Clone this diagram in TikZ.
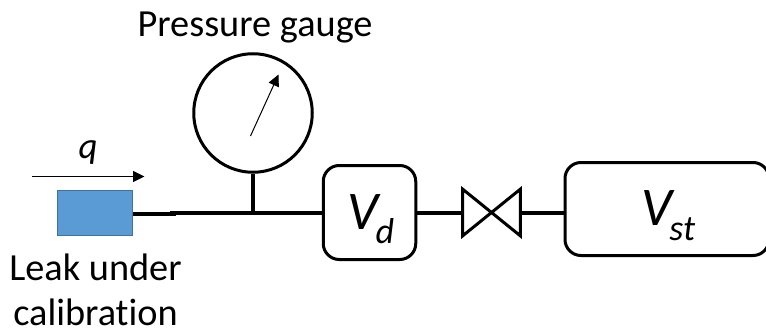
\documentclass[tikz,border=0pt]{standalone}
\usepackage{fontspec}
\setmainfont{Carlito}[Ligatures=NoCommon]
\usepackage{xcolor}
\usetikzlibrary{arrows.meta, positioning}
\definecolor{leakblue}{RGB}{91, 155, 213}
\definecolor{leakedge}{RGB}{65, 113, 156}
\newcommand{\volname}[1]{\raisebox{-0.33cm}[0pt][0pt]{\fontsize{31}{31}\selectfont\itshape\kern0.06cm V\kern-0.06em\raisebox{-0.27em}{\fontsize{20.5}{20.5}\selectfont #1}}}

\begin{document}
\begin{tikzpicture}[
    pipe/.style={draw=black, line width=0.08cm},
    volume/.style={rectangle, draw=black, line width=0.06cm, rounded corners=0.32cm, align=center},
    pointer/.style={draw=black, line width=0.02cm, -{Triangle[length=0.23cm, width=0.22cm]}},
    label/.style={font=\fontsize{21.8}{25.6}\selectfont, align=center},
]
\useasboundingbox (0,0) rectangle (15.32,-6.58);

% gauge
\node[circle, draw=black, line width=0.06cm, minimum size=2.37cm] (gauge) at (5.06,-2.26) {};
\node[label, anchor=base] (gaugelabel) at (5.10,-0.73) {Pressure gauge};
\coordinate (needlefoot) at (5.01,-2.72);
\coordinate (needletip) at (5.57,-1.49);
\draw[pointer] (needlefoot) -- (needletip);

% leak
\node[rectangle, draw=leakedge, fill=leakblue, line width=0.02cm, minimum width=1.5cm, minimum height=0.91cm] (leak) at (1.906,-4.26) {};
\node[label] (leaklabel) at (1.91,-5.79) {Leak under\\calibration};
\node[font=\fontsize{21}{21}\selectfont\itshape] (flow) at (1.76,-3.05) {q};
\coordinate (flowstart) at (0.64,-3.53);
\coordinate (flowend) at (2.89,-3.53);
\draw[pointer] (flowstart) -- (flowend);

% volumes and valve
\node[volume, minimum width=1.85cm, minimum height=1.88cm] (vd) at (7.39,-4.25) {\volname{d}};
\node[volume, minimum width=4.08cm, minimum height=1.86cm] (vst) at (13.34,-4.18) {\volname{st}};
\node[rectangle, minimum width=1.14cm, minimum height=0.92cm] (valve) at (9.83,-4.25) {};
\draw[pipe, line width=0.06cm, line join=miter] (valve.north west) -- (valve.south east) -- (valve.north east) -- (valve.south west) -- cycle;

% pipes
\coordinate (stubend) at (3.52,-4.28);
\coordinate (pipestart) at (3.4,-4.25);
\coordinate (tee) at (5.06,-4.25);
\draw[pipe] (leak.east |- stubend) -- (stubend);
\draw[pipe] (pipestart) -- (vd.west);
\draw[pipe] (gauge.south) -- (tee);
\draw[pipe] (vd.east) -- (valve.west);
\draw[pipe] (valve.east) -- (vst.west |- valve.east);
\end{tikzpicture}
\end{document}
